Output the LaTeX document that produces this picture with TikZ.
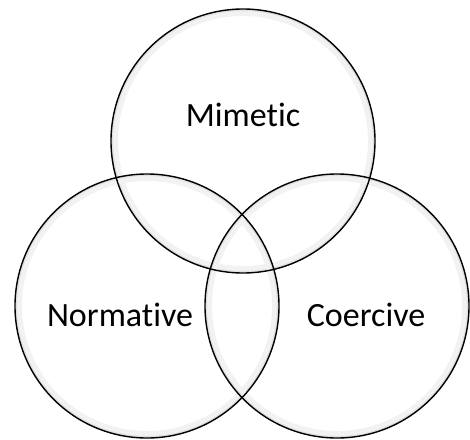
\documentclass[tikz,border=0pt]{standalone}
\usepackage{fontspec}
\setmainfont[Ligatures={NoCommon}]{Carlito}
\usetikzlibrary{backgrounds}

\begin{document}
\begin{tikzpicture}[x=1pt, y=-1pt]
  \useasboundingbox (0,0) rectangle (470,439);
  \tikzset{ring/.style={circle, draw, line width=1.4pt, inner sep=0pt, minimum size=264pt},
           word/.style={font=\fontsize{34}{40}\selectfont}}
  \node (mimetic) [ring] at (243,141) {};
  \node (normative) [ring] at (147,306) {};
  \node (coercive) [ring] at (337,306) {};

  \node (mimtext) [word] at (243,115) {Mimetic};
  \node (normtext) [word] at (120,315) {Normative};
  \node (coertext) [word] at (366,315) {Coercive};

  % soft shade along the rims
  \begin{scope}[on background layer]
    \foreach \c in {mimetic, normative, coercive} {
      \draw[black!5, line width=6pt] (\c.center) circle (128pt);
      \draw[black!12, line width=2pt] (\c.center) circle (131pt);
    }
  \end{scope}
\end{tikzpicture}
\end{document}
